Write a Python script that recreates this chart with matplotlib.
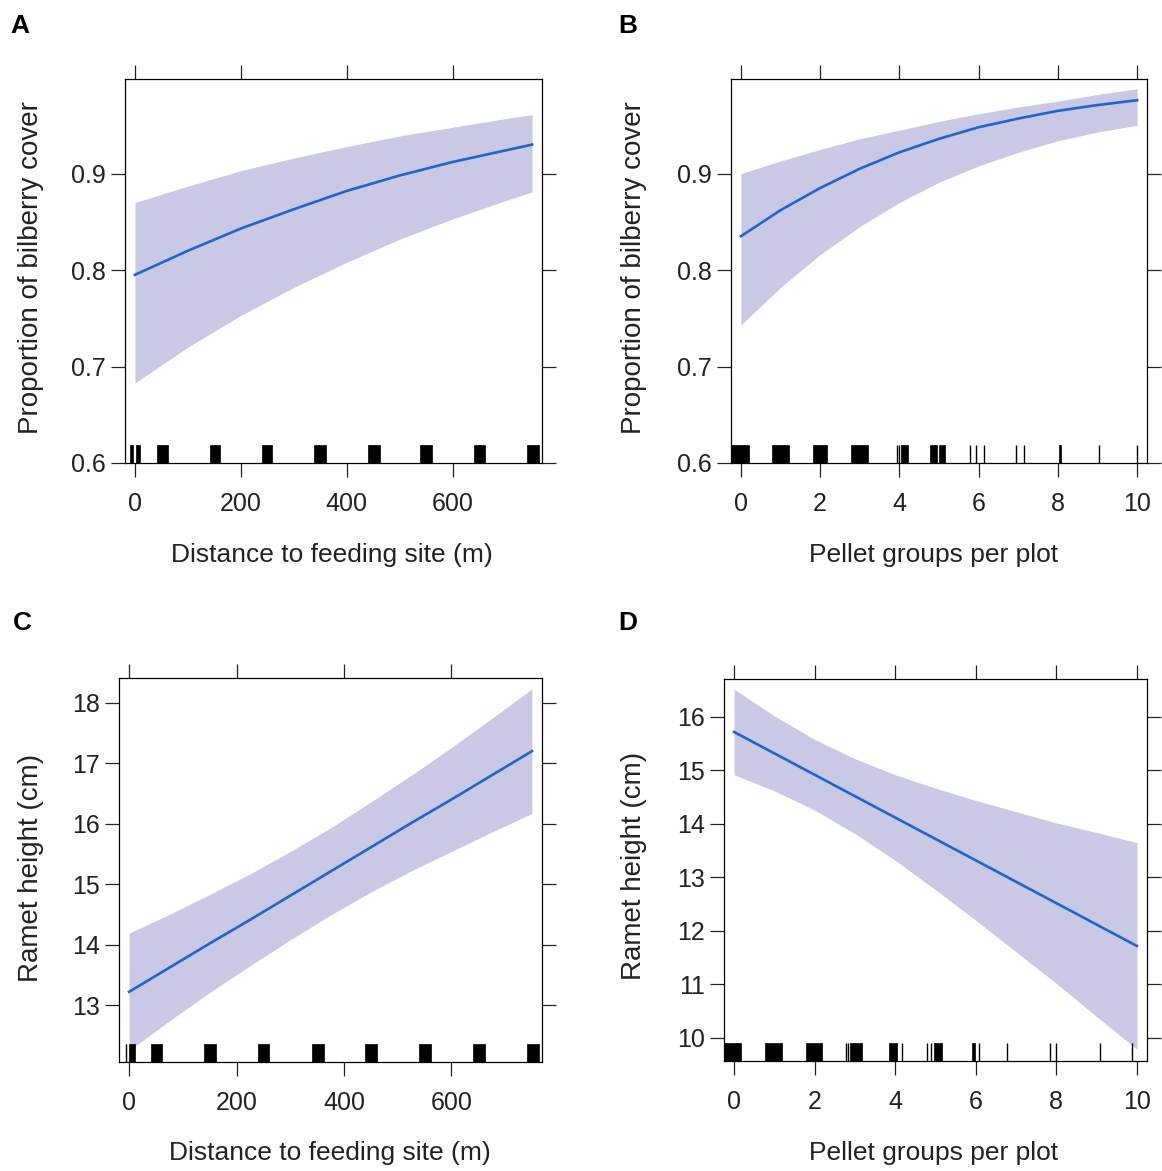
import numpy as np
import matplotlib.pyplot as plt
from matplotlib.patches import Rectangle

plt.rcParams['font.family'] = ['Liberation Sans', 'DejaVu Sans']

W, H = 1162, 1171

LINE_COLOR = '#1f66cc'
BAND_COLOR = '#c9c9e6'

# Panel A - bilberry cover vs distance
dist_x = [0, 100, 200, 300, 400, 500, 600, 700, 750]
cover_dist_fit = [0.795, 0.820, 0.843, 0.863, 0.882, 0.898, 0.912, 0.924, 0.930]
cover_dist_hi = [0.870, 0.887, 0.903, 0.916, 0.928, 0.939, 0.948, 0.957, 0.961]
cover_dist_lo = [0.683, 0.720, 0.753, 0.782, 0.808, 0.832, 0.853, 0.872, 0.881]

# Panel B - bilberry cover vs pellet groups
pellet_x = [0, 1, 2, 3, 4, 5, 6, 7, 8, 9, 10]
cover_pel_fit = [0.835, 0.862, 0.885, 0.905, 0.922, 0.936, 0.948, 0.957, 0.965, 0.971, 0.976]
cover_pel_hi = [0.900, 0.913, 0.925, 0.936, 0.945, 0.954, 0.962, 0.969, 0.975, 0.982, 0.988]
cover_pel_lo = [0.743, 0.782, 0.816, 0.845, 0.870, 0.891, 0.908, 0.922, 0.934, 0.943, 0.950]

# Panel C - ramet height vs distance
dist_x2 = [0, 75, 150, 225, 300, 375, 450, 525, 600, 675, 750]
height_dist_fit = [13.22, 13.62, 14.02, 14.41, 14.81, 15.21, 15.61, 16.01, 16.40, 16.80, 17.20]
height_dist_hi = [14.19, 14.50, 14.83, 15.17, 15.54, 15.93, 16.36, 16.80, 17.26, 17.74, 18.23]
height_dist_lo = [12.25, 12.74, 13.21, 13.65, 14.08, 14.49, 14.87, 15.22, 15.54, 15.86, 16.17]

# Panel D - ramet height vs pellet groups
pellet_x2 = [0, 1, 2, 3, 4, 5, 6, 7, 8, 9, 10]
height_pel_fit = [15.72, 15.32, 14.92, 14.52, 14.12, 13.72, 13.32, 12.92, 12.52, 12.12, 11.72]
height_pel_hi = [16.52, 16.02, 15.58, 15.22, 14.92, 14.67, 14.44, 14.23, 14.02, 13.84, 13.65]
height_pel_lo = [14.92, 14.62, 14.26, 13.82, 13.32, 12.77, 12.20, 11.61, 11.02, 10.40, 9.79]

# rug marks (lo, hi) in data units, equal values are single lines
rug_a = [(-9, -4), (2, 9), (41, 63), (142, 161), (240, 259), (339, 361),
         (441, 462), (539, 561), (640, 662), (740, 764)]
rug_b = [(-0.25, 0.2), (0.78, 1.21), (1.81, 2.18), (2.79, 3.21), (3.93, 3.93),
         (3.98, 3.98), (4.05, 4.22), (4.77, 4.94), (4.99, 5.14), (5.79, 5.79),
         (5.93, 5.93), (6.13, 6.13), (6.94, 6.94), (7.14, 7.14), (8.03, 8.07),
         (9.03, 9.03), (10.0, 10.0)]
rug_c = [(-4.8, -4.8), (0, 11), (40, 61), (140, 162), (240, 261), (340, 362),
         (440, 462), (540, 563), (640, 662), (741, 763)]
rug_d = [(-0.26, 0.18), (0.78, 1.19), (1.78, 2.18), (2.78, 2.78), (2.84, 2.84),
         (2.88, 3.18), (3.84, 4.05), (4.17, 4.17), (4.80, 4.80), (4.88, 4.88),
         (4.96, 5.17), (5.91, 5.97), (6.07, 6.07), (6.78, 6.78), (7.84, 7.84),
         (8.0, 8.0), (9.09, 9.09), (9.88, 9.88)]

dist_ticks = [0, 200, 400, 600]
pellet_ticks = [0, 2, 4, 6, 8, 10]
cover_ticks = [0.6, 0.7, 0.8, 0.9]
height_ticks_c = [13, 14, 15, 16, 17, 18]
height_ticks_d = [10, 11, 12, 13, 14, 15, 16]

FS = 18
TXT = '#222222'


def px_axes(fig, left, top, right, bottom):
    return fig.add_axes([left / W, 1 - bottom / H, (right - left) / W, (bottom - top) / H])


def fig_text(fig, x, y, s, **kw):
    fig.text(x / W, 1 - y / H, s, ha='center', va='center', **kw)


def draw_panel(ax, x, fit, lo, hi, rug, xlim, ylim, xticks, yticks, ylabels):
    ax.fill_between(x, lo, hi, color=BAND_COLOR, lw=0, zorder=1)
    ax.plot(x, fit, color=LINE_COLOR, lw=1.9, zorder=2)

    trans = ax.get_xaxis_transform()
    for a, b in rug:
        if b - a > 0:
            ax.add_patch(Rectangle((a, 0), b - a, 0.046, transform=trans,
                                   facecolor='black', edgecolor='black', lw=0.5, zorder=3))
        else:
            ax.vlines(a, 0, 0.046, transform=trans, color='black', lw=1.0, zorder=3)

    ax.set_xlim(xlim)
    ax.set_ylim(ylim)
    ax.set_xticks(xticks)
    ax.set_yticks(yticks)
    ax.set_yticklabels(ylabels)
    ax.tick_params(direction='out', top=True, right=True, length=10, width=0.9,
                   labelsize=FS, colors=TXT)
    ax.tick_params(axis='x', pad=11)
    ax.tick_params(axis='y', pad=4)
    for s in ax.spines.values():
        s.set_linewidth(0.9)


def main():
    fig = plt.figure(figsize=(W / 100, H / 100), dpi=100)

    ax_a = px_axes(fig, 125, 79, 542, 463)
    draw_panel(ax_a, dist_x, cover_dist_fit, cover_dist_lo, cover_dist_hi, rug_a,
               (-18.75, 768.75), (0.6, 0.998), dist_ticks, cover_ticks,
               ['0.6', '0.7', '0.8', '0.9'])

    ax_b = px_axes(fig, 731, 79, 1147, 463)
    draw_panel(ax_b, pellet_x, cover_pel_fit, cover_pel_lo, cover_pel_hi, rug_b,
               (-0.25, 10.25), (0.6, 0.998), pellet_ticks, cover_ticks,
               ['0.6', '0.7', '0.8', '0.9'])

    ax_c = px_axes(fig, 119, 678, 542, 1062)
    draw_panel(ax_c, dist_x2, height_dist_fit, height_dist_lo, height_dist_hi, rug_c,
               (-18.75, 768.75), (12.06, 18.41), dist_ticks, height_ticks_c,
               [str(v) for v in height_ticks_c])

    ax_d = px_axes(fig, 724, 679, 1147, 1061)
    draw_panel(ax_d, pellet_x2, height_pel_fit, height_pel_lo, height_pel_hi, rug_d,
               (-0.25, 10.25), (9.57, 16.71), pellet_ticks, height_ticks_d,
               [str(v) for v in height_ticks_d])

    # axis titles
    fig_text(fig, 31, 268, 'Proportion of bilberry cover', rotation=90, fontsize=20, color=TXT)
    fig_text(fig, 634, 268, 'Proportion of bilberry cover', rotation=90, fontsize=20, color=TXT)
    fig_text(fig, 31, 868, 'Ramet height (cm)', rotation=90, fontsize=20, color=TXT)
    fig_text(fig, 634, 866, 'Ramet height (cm)', rotation=90, fontsize=20, color=TXT)
    fig_text(fig, 332, 555, 'Distance to feeding site (m)', fontsize=19, color=TXT)
    fig_text(fig, 934, 555, 'Pellet groups per plot', fontsize=19, color=TXT)
    fig_text(fig, 330, 1153, 'Distance to feeding site (m)', fontsize=19, color=TXT)
    fig_text(fig, 934, 1153, 'Pellet groups per plot', fontsize=19, color=TXT)

    # panel letters
    for letter, x, y in [('A', 20, 26), ('B', 628, 26), ('C', 22, 623), ('D', 628, 623)]:
        fig_text(fig, x, y, letter, fontsize=19, fontweight='bold')

    fig.savefig('out.png', dpi=100)


if __name__ == '__main__':
    main()
